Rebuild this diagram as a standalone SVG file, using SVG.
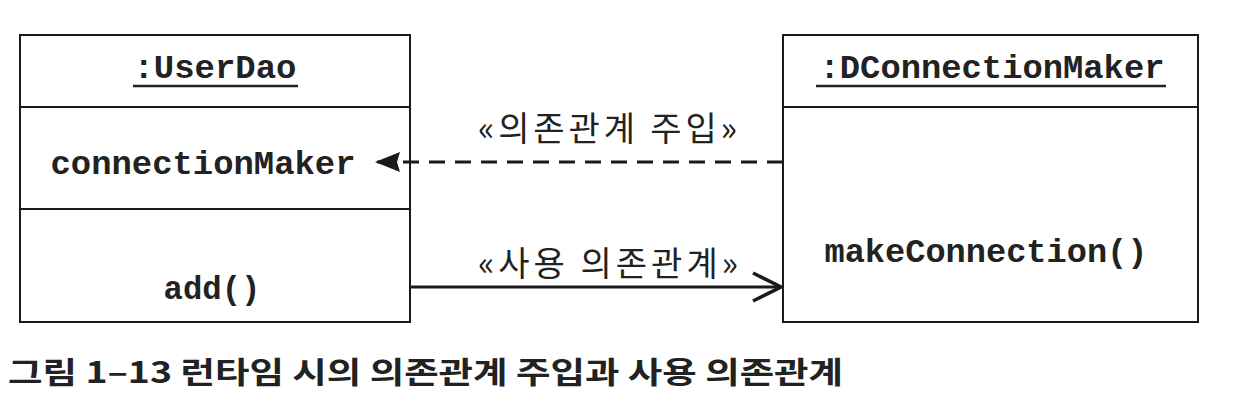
<svg xmlns="http://www.w3.org/2000/svg" width="1243" height="403" viewBox="0 0 1243 403">
<style>
.box{fill:#fff;stroke:#1a1a1a;stroke-width:2}
.div{stroke:#1a1a1a;stroke-width:2}
.mono{font-family:"Liberation Mono","Courier New",monospace;font-weight:bold;font-size:33px;fill:#222;text-anchor:middle}
.lbl{font-family:"Noto Sans CJK KR","Noto Sans",sans-serif;font-size:34px;fill:#222}
.cap{font-family:"Noto Sans CJK KR","Noto Sans",sans-serif;font-size:30px;font-weight:bold;fill:#222}
.ul{stroke:#222;stroke-width:2.5}
</style>
<defs>
<marker id="filled" markerWidth="26" markerHeight="22" refX="25" refY="11" orient="auto" markerUnits="userSpaceOnUse">
<path d="M25,11 L0,1 L3,11 L0,21 Z" fill="#1a1a1a"/>
</marker>
<marker id="open" markerWidth="34" markerHeight="34" refX="31" refY="17" orient="auto" markerUnits="userSpaceOnUse">
<path d="M3,3 L31,17 L3,31" fill="none" stroke="#1a1a1a" stroke-width="3.5"/>
</marker>
</defs>
<rect width="1243" height="403" fill="#fff"/>
<g id="userdao">
<rect class="box" x="20" y="35" width="390" height="287"/>
<line class="div" x1="20" y1="107" x2="410" y2="107"/>
<line class="div" x1="20" y1="209" x2="410" y2="209"/>
<text class="mono" x="215" y="78" textLength="163" lengthAdjust="spacingAndGlyphs">:UserDao</text>
<line class="ul" x1="133" y1="86" x2="298" y2="86"/>
<text class="mono" x="203" y="174" textLength="305" lengthAdjust="spacingAndGlyphs">connectionMaker</text>
<text class="mono" x="212" y="299" textLength="97" lengthAdjust="spacingAndGlyphs">add()</text>
</g>
<g id="dconnectionmaker">
<rect class="box" x="783" y="35" width="415" height="287"/>
<line class="div" x1="783" y1="107" x2="1198" y2="107"/>
<text class="mono" x="992" y="78" textLength="345" lengthAdjust="spacingAndGlyphs">:DConnectionMaker</text>
<line class="ul" x1="816" y1="86" x2="1166" y2="86"/>
<text class="mono" x="986" y="262" textLength="323" lengthAdjust="spacingAndGlyphs">makeConnection()</text>
</g>
<g id="connectors">
<line x1="783" y1="162" x2="375" y2="162" stroke="#1a1a1a" stroke-width="3" stroke-dasharray="16,10" marker-end="url(#filled)"/>
<line x1="410" y1="287" x2="781" y2="287" stroke="#1a1a1a" stroke-width="3" marker-end="url(#open)"/>
<text class="lbl" x="478" y="141" textLength="259" lengthAdjust="spacing">«의존관계 주입»</text>
<text class="lbl" x="478" y="276" textLength="260" lengthAdjust="spacing">«사용 의존관계»</text>
</g>
<text class="cap" x="8" y="383" textLength="835" lengthAdjust="spacingAndGlyphs">그림 1–13 런타임 시의 의존관계 주입과 사용 의존관계</text>
</svg>
